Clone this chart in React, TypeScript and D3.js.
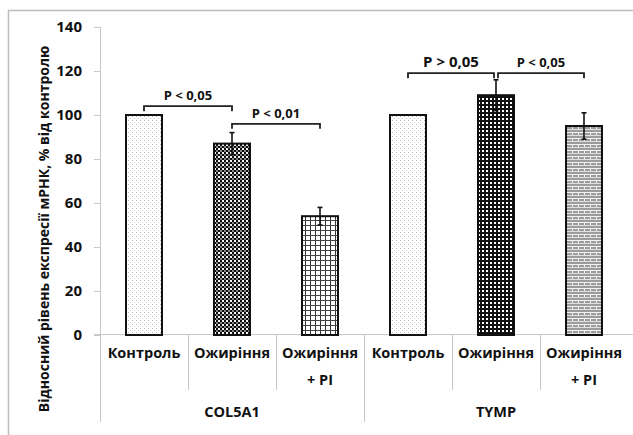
import * as d3 from 'd3'

const groups = ['COL5A1', 'TYMP']
const categories = ['Контроль', 'Ожиріння', 'Ожиріння\n+ PI', 'Контроль', 'Ожиріння', 'Ожиріння\n+ PI']
const values = [100, 87, 54, 100, 109, 95]
const errors = [0, 5, 4, 0, 7, 6]
const patterns = ['dots', 'checker', 'grid', 'dots', 'dotgrid', 'brick']
const yTicks = [0, 20, 40, 60, 80, 100, 120, 140]

// [from bar, to bar, level, label, bold big]
const brackets: [number, number, number, string, boolean][] = [
  [0, 1, 104, 'P < 0,05', false],
  [1, 2, 96, 'P < 0,01', false],
  [3, 4, 119, 'P > 0,05', true],
  [4, 5, 119, 'P < 0,05', false]
]

const W = 633
const H = 435
const FONT = "'Open Sans', 'Noto Sans', sans-serif"

export default function App() {
  const x = d3.scaleBand<number>().domain(d3.range(categories.length)).range([100, 628]).padding(0)
  const y = d3.scaleLinear().domain([0, 140]).range([335, 27])
  const bw = 36
  const cx = (i: number) => (x(i) as number) + x.bandwidth() / 2

  return (
    <div style={{ position: 'fixed', left: 0, top: 0, width: W, height: H, background: '#fff' }}>
      <svg width={W} height={H} style={{ display: 'block' }}>
        <defs>
          <pattern id="dots" width="4" height="4" patternUnits="userSpaceOnUse">
            <rect width="4" height="4" fill="#fff" />
            <rect x="0" y="0" width="1" height="1" fill="#b5b5b5" />
            <rect x="2" y="2" width="1" height="1" fill="#d0d0d0" />
          </pattern>
          <pattern id="checker" width="4" height="4" patternUnits="userSpaceOnUse">
            <rect width="4" height="4" fill="#888" />
            <rect x="0" y="0" width="2" height="2" fill="#0c0c0c" />
            <rect x="2" y="2" width="2" height="2" fill="#0c0c0c" />
            <rect x="2" y="0" width="2" height="2" fill="#f4f4f4" />
          </pattern>
          <pattern id="grid" width="5" height="5" patternUnits="userSpaceOnUse">
            <rect width="5" height="5" fill="#fff" />
            <rect x="0" y="0" width="1" height="5" fill="#333" />
            <rect x="0" y="0" width="5" height="1" fill="#444" />
          </pattern>
          <pattern id="dotgrid" width="4" height="4" patternUnits="userSpaceOnUse">
            <rect width="4" height="4" fill="#fff" />
            <rect x="0" y="0" width="2" height="4" fill="#111" />
            <rect x="0" y="0" width="4" height="2" fill="#111" />
          </pattern>
          <pattern id="brick" width="6" height="6" patternUnits="userSpaceOnUse">
            <rect width="6" height="6" fill="#9c9c9c" />
            <rect x="0" y="0" width="6" height="1" fill="#f2f2f2" />
            <rect x="0" y="3" width="6" height="1" fill="#e0e0e0" />
            <rect x="2" y="1" width="1" height="2" fill="#eee" />
          </pattern>
        </defs>

        {/* outer frame */}
        <rect x={8.5} y={10.5} width={W} height={H} fill="none" stroke="#bdbdbd" strokeWidth={1.5} />

        {/* y axis */}
        <line x1={100.5} x2={100.5} y1={y(140)} y2={422} stroke="#c8c8c8" />
        {yTicks.map(t => (
          <g key={t}>
            <line x1={94} x2={100} y1={Math.round(y(t)) + 0.5} y2={Math.round(y(t)) + 0.5} stroke="#c8c8c8" />
            <text x={82} y={y(t)} dy="0.35em" textAnchor="end" fontFamily={FONT} fontWeight="bold" fontSize={15} fill="#111">{t}</text>
          </g>
        ))}
        <text transform={`translate(44,${229}) rotate(-90)`} textAnchor="middle" dy="0.35em" fontFamily={FONT} fontWeight="bold" fontSize={14} fill="#111">
          Відносний рівень експресії мРНК, % від контролю
        </text>

        {/* x axis */}
        <line x1={94} x2={W} y1={y(0) - 0.5} y2={y(0) - 0.5} stroke="#c8c8c8" />
        {categories.map((c, i) => i > 0 && (
          <line key={'s' + i} x1={(x(i) as number) + 0.5} x2={(x(i) as number) + 0.5} y1={y(0)} y2={i === 3 ? 422 : 390} stroke="#c8c8c8" />
        ))}
        {categories.map((c, i) => (
          <text key={'c' + i} x={cx(i)} y={358} textAnchor="middle" fontFamily={FONT} fontWeight="bold" fontSize={14.5} fill="#111">
            {c.split('\n').map((s, k) => (
              <tspan key={k} x={cx(i)} dy={k === 0 ? 0 : 27}>{s}</tspan>
            ))}
          </text>
        ))}
        {groups.map((g, gi) => (
          <text key={g} x={(cx(gi * 3) + cx(gi * 3 + 2)) / 2} y={417} textAnchor="middle" fontFamily={FONT} fontWeight="bold" fontSize={14.5} fill="#111">{g}</text>
        ))}

        {/* bars */}
        {values.map((v, i) => (
          <rect key={'b' + i} x={cx(i) - bw / 2} y={y(v)} width={bw} height={y(0) - y(v)} fill={`url(#${patterns[i]})`} stroke="#111" strokeWidth={2} />
        ))}

        {/* error bars */}
        {values.map((v, i) => errors[i] > 0 && (
          <g key={'e' + i} stroke="#111" strokeWidth={1.6}>
            <line x1={cx(i)} x2={cx(i)} y1={y(v + errors[i])} y2={y(v - errors[i])} />
            <line x1={cx(i) - 2.5} x2={cx(i) + 2.5} y1={y(v + errors[i])} y2={y(v + errors[i])} />
            <line x1={cx(i) - 2.5} x2={cx(i) + 2.5} y1={y(v - errors[i])} y2={y(v - errors[i])} />
          </g>
        ))}

        {/* significance brackets */}
        {brackets.map(([a, b, lvl, label, big], k) => {
          const yy = y(lvl)
          const x1 = cx(a) + (k === 3 ? 2 : 0)
          const x2 = cx(b) - (k === 2 ? 2 : 0)
          return (
            <g key={'p' + k}>
              <path d={`M${x1},${yy + 5}V${yy}H${x2}V${yy + 5}`} fill="none" stroke="#222" strokeWidth={1.8} />
              <text x={(x1 + x2) / 2} y={yy - 6} textAnchor="middle" fontFamily={FONT} fontWeight="bold" fontSize={big ? 15 : 13} fill="#111">{label}</text>
            </g>
          )
        })}
      </svg>
    </div>
  )
}
